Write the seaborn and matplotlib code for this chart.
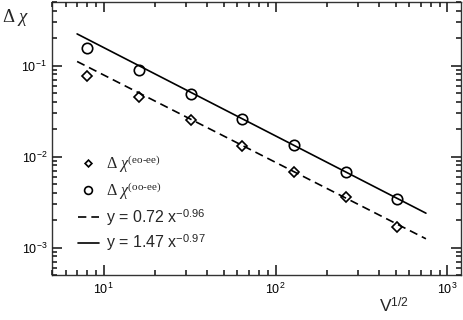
import matplotlib
matplotlib.use("Agg")
import matplotlib.pyplot as plt
from matplotlib.ticker import LogLocator, NullFormatter
import pandas as pd
import seaborn as sns

# values
v_half = [8, 16, 32, 64, 128, 256, 512]
chi_eo_ee = [0.076, 0.045, 0.025, 0.013, 0.0067, 0.0036, 0.0017]
chi_oo_ee = [0.155, 0.089, 0.049, 0.026, 0.0133, 0.0067, 0.0034]

# power-law fit lines, end points
fit_x = [7, 750]
fit_eo = [0.111, 0.00125]
fit_oo = [0.223, 0.00239]

labels = [r"$\Delta\ \chi^{\text{(eo-ee)}}$",
          r"$\Delta\ \chi^{\text{(oo-ee)}}$",
          r"y = 0.72 x$^{\mathdefault{-0.96}}$",
          r"y = 1.47 x$^{\mathdefault{-0.97}}$"]

pts = pd.DataFrame({"x": v_half, "eo": chi_eo_ee, "oo": chi_oo_ee})
fits = pd.DataFrame({"x": fit_x, "eo": fit_eo, "oo": fit_oo})

sns.set_style("ticks")
plt.rcParams["font.family"] = ["Liberation Sans", "DejaVu Sans"]
plt.rcParams["mathtext.fontset"] = "custom"
plt.rcParams["mathtext.rm"] = "Liberation Serif"
plt.rcParams["mathtext.it"] = "Liberation Serif:italic"
plt.rcParams["axes.linewidth"] = 1.0
plt.rcParams["axes.edgecolor"] = "#333333"

fig = plt.figure(figsize=(4.63, 3.2), dpi=100)
ax = fig.add_axes([52 / 463, 45 / 320, 409 / 463, 273 / 320])

sns.lineplot(data=pts, x="x", y="eo", ax=ax, linestyle="none", marker="D",
             markersize=4.6, mfc="white", mec="black", mew=1.2,
             label=labels[0], errorbar=None)
sns.lineplot(data=pts, x="x", y="oo", ax=ax, linestyle="none", marker="o",
             markersize=7.5, mfc="white", mec="black", mew=1.2,
             label=labels[1], errorbar=None)
sns.lineplot(data=fits, x="x", y="eo", ax=ax, color="black", lw=1.2,
             linestyle=(0, (5, 3)), label=labels[2], errorbar=None)
sns.lineplot(data=fits, x="x", y="oo", ax=ax, color="black", lw=1.2,
             label=labels[3], errorbar=None)

ax.set_xscale("log")
ax.set_yscale("log")
ax.set_xlim(5, 1200)
ax.set_ylim(5e-4, 0.5)
for axis in (ax.xaxis, ax.yaxis):
    axis.set_major_locator(LogLocator(base=10, numticks=10))
    axis.set_minor_locator(LogLocator(base=10, subs=range(2, 10), numticks=20))
    axis.set_minor_formatter(NullFormatter())
ax.set_xlabel("")
ax.set_ylabel("")
ax.set_axisbelow(False)
ax.tick_params(which="both", direction="in", top=True, right=True,
               bottom=True, left=True, color="#222222", width=1.2,
               labelsize=9, labelcolor="black")
ax.tick_params(which="major", length=7.2)
ax.tick_params(which="minor", length=3.8)
ax.tick_params(axis="x", which="major", pad=5)

leg = ax.legend(loc="upper left", bbox_to_anchor=(78 / 463, 1 - 153 / 320),
                bbox_transform=fig.transFigure, frameon=False, fontsize=11.5,
                handlelength=1.3, handletextpad=0.45, labelspacing=0.3,
                borderpad=0, borderaxespad=0, markerscale=0.75)

fig.text(16 / 463, 1 - 18 / 320, r"$\Delta\ \chi$", fontsize=13.5,
         ha="center", va="center")
fig.text(394 / 463, 1 - 306 / 320, r"V$^{\mathdefault{1/2}}$", fontsize=12.5,
         ha="center", va="center")

fig.savefig("out.png", dpi=100)
